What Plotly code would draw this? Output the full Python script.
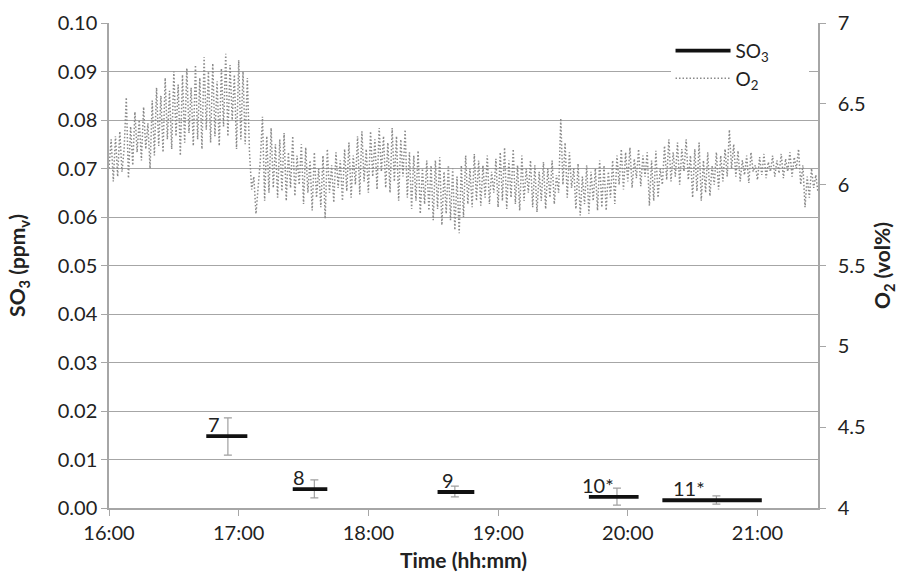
import plotly.graph_objects as go
import pandas as pd

DAY = "2000-01-01 "

# O2 (vol%) sampled once per minute from 16:00 to 21:28
o2_start = "16:00"
o2_values = [
    6.10, 6.28, 6.02, 6.30, 6.05, 6.33, 6.08, 6.22, 6.54, 6.04,
    6.36, 6.12, 6.45, 6.20, 6.40, 6.15, 6.48, 6.22, 6.38, 6.10,
    6.52, 6.18, 6.60, 6.24, 6.55, 6.20, 6.66, 6.28, 6.58, 6.22,
    6.70, 6.30, 6.62, 6.18, 6.68, 6.26, 6.72, 6.32, 6.60, 6.24,
    6.74, 6.28, 6.66, 6.22, 6.79, 6.34, 6.70, 6.26, 6.75, 6.30,
    6.64, 6.24, 6.72, 6.36, 6.81, 6.30, 6.74, 6.40, 6.68, 6.22,
    6.77, 6.28, 6.70, 6.25, 6.66, 6.20, 5.97, 6.05, 5.82, 6.00,
    6.15, 6.42, 5.90, 6.30, 5.95, 6.35, 5.98, 6.25, 5.92, 6.28,
    5.96, 6.32, 5.90, 6.20, 5.98, 6.30, 5.93, 6.18, 6.00, 6.25,
    5.88, 6.23, 5.95, 6.15, 5.84, 6.20, 5.92, 6.10, 5.86, 6.18,
    5.79, 6.22, 5.95, 6.12, 5.89, 6.20, 5.98, 6.15, 5.90, 6.22,
    5.96, 6.26, 5.92, 6.18, 6.00, 6.30, 5.94, 6.33, 6.02, 6.22,
    5.95, 6.33, 6.05, 6.28, 5.97, 6.35, 6.08, 6.30, 5.98, 6.26,
    5.95, 6.35, 6.02, 6.30, 5.90, 6.28, 6.05, 6.34, 5.92, 6.20,
    5.85, 6.18, 5.90, 6.21, 5.82, 6.10, 5.88, 6.15, 5.84, 6.12,
    5.78, 6.15, 5.85, 6.17, 5.75, 6.08, 5.82, 6.12, 5.78, 6.10,
    5.72, 6.05, 5.70, 6.12, 5.80, 6.18, 5.88, 6.10, 5.86, 6.19,
    5.90, 6.15, 5.87, 6.12, 5.92, 6.18, 5.88, 6.08, 5.95, 6.16,
    5.86, 6.20, 5.90, 6.23, 5.85, 6.15, 5.92, 6.22, 5.88, 6.12,
    5.84, 6.18, 5.90, 6.10, 5.95, 6.15, 5.86, 6.12, 5.83, 6.08,
    5.90, 6.14, 5.85, 6.10, 5.92, 6.15, 5.88, 6.06, 5.95, 6.41,
    6.00, 6.26, 5.92, 6.20, 5.98, 6.10, 5.85, 6.13, 5.81, 6.05,
    5.88, 6.12, 5.82, 6.08, 5.90, 6.10, 5.84, 6.15, 5.86, 6.12,
    5.84, 6.08, 5.92, 6.15, 5.88, 6.18, 6.00, 6.22, 5.97, 6.20,
    6.02, 6.23, 5.98, 6.16, 6.04, 6.22, 5.99, 6.18, 6.05, 6.20,
    5.87, 6.15, 5.90, 6.21, 5.92, 6.10, 6.00, 6.24, 6.03, 6.28,
    6.02, 6.20, 6.05, 6.26, 6.00, 6.22, 6.08, 6.28, 6.03, 6.18,
    5.92, 6.22, 5.96, 6.26, 5.90, 6.15, 5.95, 6.20, 5.93, 6.12,
    6.00, 6.20, 5.97, 6.18, 6.02, 6.22, 6.05, 6.34, 6.10, 6.25,
    6.05, 6.21, 6.02, 6.15, 6.06, 6.18, 6.01, 6.20, 6.08, 6.12,
    6.03, 6.17, 6.06, 6.19, 6.04, 6.14, 6.08, 6.18, 6.05, 6.15,
    6.07, 6.19, 6.04, 6.16, 6.08, 6.20, 6.05, 6.17, 6.10, 6.22,
    6.00, 6.12, 5.86, 6.05, 5.92, 6.10, 5.98, 6.06, 5.95,
]

# SO3 test periods
so3_labels = ["7", "8", "9", "10*", "11*"]
so3_start = ["16:45", "17:25", "18:32", "19:42", "20:16"]
so3_end = ["17:04", "17:41", "18:49", "20:05", "21:02"]
so3_mean = [0.0148, 0.0039, 0.0033, 0.0023, 0.0016]
so3_err_time = ["16:55", "17:35", "18:40", "19:55", "20:41"]
so3_err_plus = [0.0038, 0.0019, 0.0012, 0.0018, 0.0009]
so3_err_minus = [0.0039, 0.0018, 0.0010, 0.0017, 0.0008]
label_time = ["16:45", "17:24", "18:33", "19:38", "20:20"]

x_range = ["16:00", "21:28"]
tick_times = ["16:00", "17:00", "18:00", "19:00", "20:00", "21:00"]

o2_times = pd.date_range(DAY + o2_start, periods=len(o2_values), freq="1min")

seg_x, seg_y = [], []
for s, e, m in zip(so3_start, so3_end, so3_mean):
    seg_x += [DAY + s, DAY + e, None]
    seg_y += [m, m, None]

FONT = "Lato, 'Open Sans', sans-serif"
GRID = "#a6a6a6"
TXT = "#222222"
PAD = "&nbsp;" * 7  # widens the white legend box towards the right axis

fig = go.Figure()

fig.add_trace(go.Scatter(
    x=o2_times, y=o2_values, name="O<sub>2</sub>" + PAD, mode="lines",
    line=dict(color="#8a8a8a", width=1.5, dash="1.5px,2px"),
    yaxis="y2", showlegend=True,
))

fig.add_trace(go.Scatter(
    x=[DAY + t for t in so3_err_time], y=so3_mean, mode="markers",
    marker=dict(size=1, opacity=0), showlegend=False, hoverinfo="skip",
    error_y=dict(type="data", symmetric=False, array=so3_err_plus,
                 arrayminus=so3_err_minus, color="#a0a0a0", thickness=1.2, width=4),
))

fig.add_trace(go.Scatter(
    x=seg_x, y=seg_y, name="SO<sub>3</sub>" + PAD, mode="lines",
    line=dict(color="#111111", width=3.8), connectgaps=False,
))

for lab, t, m in zip(so3_labels, label_time, so3_mean):
    fig.add_annotation(x=DAY + t, y=m, text=lab, showarrow=False,
                       xanchor="left", yanchor="bottom", yshift=-2,
                       font=dict(family=FONT, size=20, color=TXT))

fig.update_layout(
    width=900, height=573,
    margin=dict(l=109, r=82, t=23, b=65, autoexpand=False),
    paper_bgcolor="white", plot_bgcolor="white",
    font=dict(family=FONT, size=20, color=TXT),
    xaxis=dict(
        type="date", range=[DAY + x_range[0], DAY + x_range[1]],
        tickvals=[DAY + t for t in tick_times], ticktext=tick_times,
        showgrid=False, showline=True, linecolor=GRID, linewidth=1.5,
        ticks="outside", ticklen=6, tickcolor=GRID, automargin=False,
        title=dict(text="<b>Time (hh:mm)</b>", font=dict(size=21), standoff=11),
        tickfont=dict(size=20),
    ),
    yaxis=dict(
        range=[0, 0.1], dtick=0.01, tickformat=".2f",
        showgrid=True, gridcolor=GRID, gridwidth=1.2,
        showline=True, linecolor=GRID, linewidth=1.5,
        ticks="outside", ticklen=6, tickcolor=GRID, zeroline=False, automargin=False,
        title=dict(text="<b>SO<sub>3</sub> (ppm<sub>v</sub>)</b>", font=dict(size=21), standoff=26),
        tickfont=dict(size=20),
    ),
    yaxis2=dict(
        range=[4, 7], dtick=0.5, overlaying="y", side="right",
        showgrid=False, showline=True, linecolor=GRID, linewidth=1.5,
        ticks="outside", ticklen=6, tickcolor=GRID, zeroline=False, automargin=False,
        ticklabelstandoff=8,
        title=dict(text="<b>O<sub>2</sub> (vol%)</b>", font=dict(size=21), standoff=11),
        tickfont=dict(size=20),
    ),
    legend=dict(
        x=0.792, y=0.998, xanchor="left", yanchor="top",
        bgcolor="white", borderwidth=0, traceorder="reversed",
        font=dict(size=19), itemwidth=55,
        title=dict(text=" ", font=dict(size=6)),
    ),
)

fig.write_html("out.html")
